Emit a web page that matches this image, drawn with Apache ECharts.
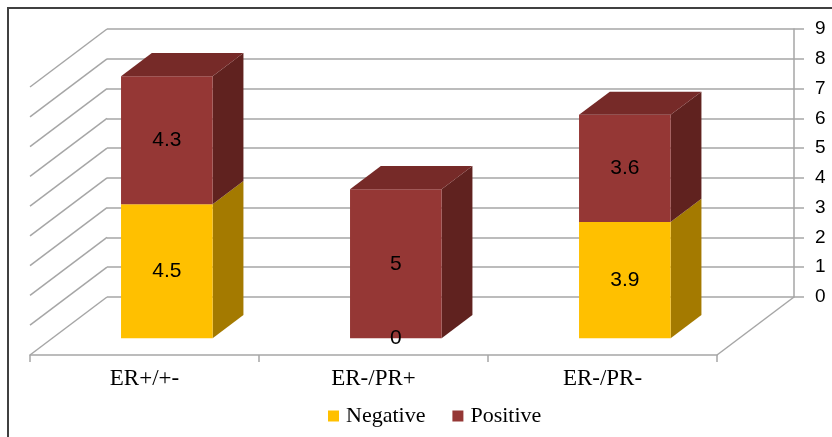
<!DOCTYPE html>
<html><head><meta charset="utf-8">
<script src="https://cdn.jsdelivr.net/npm/echarts@6/dist/echarts.min.js"></script>
<style>html,body{margin:0;padding:0;background:#fff}#c{width:832px;height:437px}</style>
</head><body><div id="c"></div>
<script>
// ---- data ----
const categories = ['ER+/+-', 'ER-/PR+', 'ER-/PR-'];
const negativeValues = [4.5, 0, 3.9];
const positiveValues = [4.3, 5, 3.6];
const yTicks = [0, 1, 2, 3, 4, 5, 6, 7, 8, 9];

// ---- style / layout ----
const DX = 77, DY = 58;          // floor depth vector (px)
const F0 = 0.29, F1 = 0.69;      // bar front / back depth fraction
const BAR_W = 0.4;               // bar width as fraction of band
const GRID = '#a6a6a6';
const SANS = '"Liberation Sans",Arial,sans-serif';
const SERIF = '"Liberation Serif","Times New Roman",serif';
const NEG = {front: '#FFC000', side: '#A47A00', top: '#C99700'};
const POS = {front: '#953735', side: '#60221F', top: '#762A28'};

const chart = echarts.init(document.getElementById('c'), null, {renderer: 'canvas'});

function geom(api, i, base, val) {
  const pb = api.coord([i, base]);
  const pt = api.coord([i, base + val]);
  const w = api.size([1, 0])[0] * BAR_W;
  const sx0 = DX * F0, sy0 = -DY * F0, sx1 = DX * F1, sy1 = -DY * F1;
  return {
    xl: pb[0] - w / 2 + sx0, xr: pb[0] + w / 2 + sx0,
    yb: pb[1] + sy0, yt: pt[1] + sy0,
    ddx: sx1 - sx0, ddy: sy1 - sy0
  };
}

function segmentRenderer(colors) {
  return function (params, api) {
    const i = api.value(0), base = api.value(1), val = api.value(2), isTop = api.value(3);
    const children = [];
    if (val > 0) {
      const g = geom(api, i, base, val);
      children.push({type: 'polygon', shape: {points: [[g.xr, g.yb], [g.xr + g.ddx, g.yb + g.ddy], [g.xr + g.ddx, g.yt + g.ddy], [g.xr, g.yt]]}, style: {fill: colors.side}});
      children.push({type: 'rect', shape: {x: g.xl, y: g.yt, width: g.xr - g.xl, height: g.yb - g.yt}, style: {fill: colors.front}});
      if (isTop) {
        children.push({type: 'polygon', shape: {points: [[g.xl, g.yt], [g.xr, g.yt], [g.xr + g.ddx, g.yt + g.ddy], [g.xl + g.ddx, g.yt + g.ddy]]}, style: {fill: colors.top}});
      }
    }
    return {type: 'group', children: children};
  };
}

function labelRenderer(params, api) {
  const i = api.value(0), base = api.value(1), val = api.value(2);
  const g = geom(api, i, base, val);
  return {
    type: 'text', x: (g.xl + g.xr) / 2, y: (g.yb + g.yt) / 2,
    style: {text: String(val), fill: '#000', fontSize: 21, fontFamily: SANS, align: 'center', verticalAlign: 'middle'}
  };
}

function wallRenderer(params, api) {
  const cs = params.coordSys;
  const v = api.value(1);
  const p = api.coord([0, v]);
  const children = [{type: 'line', shape: {x1: cs.x, y1: p[1], x2: cs.x + DX, y2: p[1] - DY}, style: {stroke: GRID, lineWidth: 1.5}}];
  if (v === 0) {
    children.push({type: 'line', shape: {x1: cs.x + cs.width, y1: p[1], x2: cs.x + cs.width + DX, y2: p[1] - DY}, style: {stroke: GRID, lineWidth: 1.5}});
  }
  return {type: 'group', children: children};
}

const negData = categories.map((c, i) => [i, 0, negativeValues[i], positiveValues[i] > 0 ? 0 : 1]);
const posData = categories.map((c, i) => [i, negativeValues[i], positiveValues[i], 1]);
const labelData = negData.concat(posData);

const option = {
  animation: false,
  backgroundColor: '#fff',
  graphic: [{type: 'rect', shape: {x: 8, y: 8, width: 1000, height: 1000}, style: {fill: 'none', stroke: '#404040', lineWidth: 2}, silent: true}],
  legend: {
    data: ['Negative', 'Positive'], left: 323, top: 400, icon: 'rect',
    itemWidth: 11, itemHeight: 11, itemGap: 27,
    textStyle: {fontFamily: SERIF, fontSize: 22, color: '#000', padding: [0, 0, 0, 2]}
  },
  grid: [
    {left: 107, right: 38, top: 29, bottom: 140},   // back wall
    {left: 30, right: 115, top: 87, bottom: 82}      // front plane
  ],
  xAxis: [
    {gridIndex: 0, type: 'value', min: 0, max: 1, show: false,
      axisLine: {show: false, onZero: false}, axisTick: {show: false}, splitLine: {show: false}, axisLabel: {show: false}},
    {gridIndex: 1, type: 'category', data: categories, boundaryGap: true,
      axisLine: {onZero: false, lineStyle: {color: GRID, width: 1.5}},
      axisTick: {show: true, length: 7, lineStyle: {color: GRID, width: 1.5}},
      axisLabel: {fontFamily: SERIF, fontSize: 23, color: '#000', margin: 12},
      splitLine: {show: false}}
  ],
  yAxis: [
    {gridIndex: 0, type: 'value', position: 'right', min: 0, max: 9, interval: 1,
      axisLine: {show: true, onZero: false, lineStyle: {color: GRID, width: 1.5}},
      axisTick: {show: true, length: 10, lineStyle: {color: GRID, width: 1.5}},
      axisLabel: {fontFamily: SANS, fontSize: 19, color: '#000', margin: 21},
      splitLine: {show: true, lineStyle: {color: GRID, width: 1.5}}},
    {gridIndex: 1, type: 'value', min: 0, max: 9, interval: 1, show: false,
      axisLine: {show: false, onZero: false}, splitLine: {show: false}}
  ],
  series: [
    {type: 'custom', name: 'wall', xAxisIndex: 1, yAxisIndex: 1, z: 1, silent: true,
      data: yTicks.map(v => [0, v]), renderItem: wallRenderer},
    {type: 'custom', name: 'Negative', xAxisIndex: 1, yAxisIndex: 1, z: 3,
      itemStyle: {color: NEG.front}, data: negData, renderItem: segmentRenderer(NEG)},
    {type: 'custom', name: 'Positive', xAxisIndex: 1, yAxisIndex: 1, z: 3,
      itemStyle: {color: POS.front}, data: posData, renderItem: segmentRenderer(POS)},
    {type: 'custom', name: 'labels', xAxisIndex: 1, yAxisIndex: 1, z: 5, silent: true,
      data: labelData, renderItem: labelRenderer}
  ]
};
chart.setOption(option);
</script>
</body></html>
